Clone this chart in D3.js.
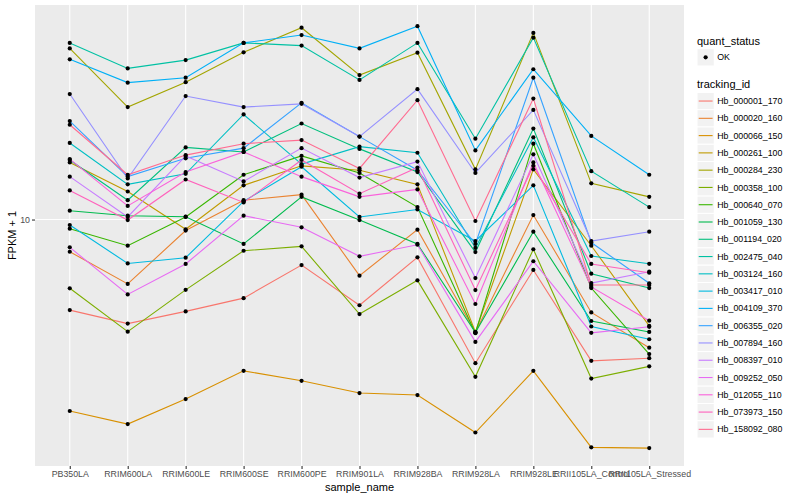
<!DOCTYPE html>
<html>
<head>
<meta charset="utf-8">
<script src="https://cdn.jsdelivr.net/npm/d3@7"></script>
<style>
  body { margin: 0; background: #ffffff; }
  text { font-family: "Liberation Sans", Arial, sans-serif; }
</style>
</head>
<body>
<div id="chart-area"></div>
<script>
// samples along the x axis
var sampleNames = ["PB350LA", "RRIM600LA", "RRIM600LE", "RRIM600SE", "RRIM600PE", "RRIM901LA",
  "RRIM928BA", "RRIM928LA", "RRIM928LE", "RRII105LA_Control", "RRII105LA_Stressed"];

var trackingIds = ["Hb_000001_170", "Hb_000020_160", "Hb_000066_150", "Hb_000261_100", "Hb_000284_230",
  "Hb_000358_100", "Hb_000640_070", "Hb_001059_130", "Hb_001194_020", "Hb_002475_040",
  "Hb_003124_160", "Hb_003417_010", "Hb_004109_370", "Hb_006355_020", "Hb_007894_160",
  "Hb_008397_010", "Hb_009252_050", "Hb_012055_110", "Hb_073973_150", "Hb_158092_080"];

var quantStatus = ["OK"];
var yTicks = [10];

// FPKM + 1, one array per gene, in sampleNames order
var hb_000001_170 = [4.99, 4.50, 4.94, 5.47, 7.05, 5.18, 7.48, 3.32, 6.79, 3.38, 3.45];
var hb_000020_160 = [7.81, 6.10, 9.19, 11.6, 12.1, 6.50, 9.25, 4.21, 10.35, 4.90, 3.74];
var hb_000066_150 = [2.30, 2.08, 2.52, 3.13, 2.90, 2.64, 2.60, 1.95, 3.13, 1.74, 1.73];
var hb_000261_100 = [15.5, 12.4, 9.28, 13.0, 15.1, 14.6, 13.1, 4.22, 14.7, 8.18, 4.42];
var hb_000284_230 = [37.2, 23.7, 28.7, 36.1, 43.6, 30.3, 36.0, 14.7, 41.9, 13.2, 11.9];
var hb_000358_100 = [5.90, 4.23, 5.83, 7.87, 8.14, 4.84, 6.27, 2.99, 7.96, 2.95, 3.24];
var hb_000640_070 = [9.32, 8.18, 10.2, 14.1, 16.3, 14.3, 11.0, 4.18, 17.9, 5.91, 3.56];
var hb_001059_130 = [10.7, 10.3, 10.22, 8.29, 11.9, 9.96, 8.29, 4.20, 9.11, 4.59, 4.22];
var hb_001194_020 = [15.8, 11.6, 17.4, 16.8, 20.9, 17.2, 14.4, 7.79, 20.1, 6.60, 5.91];
var hb_002475_040 = [38.8, 31.9, 34.0, 38.8, 38.0, 29.2, 38.8, 18.6, 40.4, 14.5, 11.0];
var hb_003124_160 = [18.0, 13.1, 14.2, 22.4, 15.3, 17.5, 16.7, 8.04, 18.8, 7.56, 7.12];
var hb_003417_010 = [9.59, 7.14, 7.46, 11.5, 15.0, 10.2, 10.8, 8.48, 13.0, 4.40, 3.99];
var hb_004109_370 = [34.2, 28.6, 29.7, 38.8, 41.2, 37.2, 44.1, 17.0, 31.7, 19.0, 14.1];
var hb_006355_020 = [21.3, 13.9, 16.0, 17.3, 24.5, 18.9, 14.6, 8.29, 29.7, 8.38, 6.13];
var hb_007894_160 = [26.2, 13.7, 25.8, 23.7, 24.3, 18.9, 27.2, 14.3, 23.2, 8.48, 9.11];
var hb_008397_010 = [13.9, 10.2, 16.3, 13.4, 17.3, 13.8, 15.6, 6.38, 16.5, 6.14, 6.70];
var hb_009252_050 = [8.08, 5.63, 7.11, 10.3, 9.42, 7.54, 8.24, 3.91, 7.26, 4.19, 4.39];
var hb_012055_110 = [15.9, 11.1, 14.4, 16.8, 13.9, 11.9, 12.6, 5.23, 15.5, 5.96, 4.60];
var hb_073973_150 = [12.5, 9.96, 13.6, 11.4, 15.8, 12.2, 14.9, 5.82, 15.1, 7.11, 6.65];
var hb_158092_080 = [20.7, 14.1, 16.4, 17.9, 18.4, 14.8, 25.0, 9.89, 25.3, 6.05, 6.05];

var seriesValues = [hb_000001_170, hb_000020_160, hb_000066_150, hb_000261_100, hb_000284_230,
  hb_000358_100, hb_000640_070, hb_001059_130, hb_001194_020, hb_002475_040,
  hb_003124_160, hb_003417_010, hb_004109_370, hb_006355_020, hb_007894_160,
  hb_008397_010, hb_009252_050, hb_012055_110, hb_073973_150, hb_158092_080];

// ggplot default hue palette for 20 levels
var colors = ["#F8766D", "#EA8331", "#D89000", "#C09B00", "#A3A500", "#7CAE00", "#39B600", "#00BB4E",
  "#00BF7D", "#00C1A3", "#00BFC4", "#00BAE0", "#00B0F6", "#35A2FF", "#9590FF", "#C77CFF",
  "#E76BF3", "#FA62DB", "#FF62BC", "#FF6C91"];

var series = trackingIds.map((id, i) => ({
  id: id,
  color: colors[i],
  values: seriesValues[i].map((v, j) => ({ sample: sampleNames[j], value: v }))
}));

var width = 800, height = 500;
var margin = { top: 5, right: 116, bottom: 34, left: 35 };

var svg = d3
  .select("#chart-area")
  .append("svg")
  .attr("width", width)
  .attr("height", height);

var x = d3
  .scalePoint()
  .domain(sampleNames)
  .range([margin.left, width - margin.right])
  .padding(0.6);

// log scale, limits of the panel (data range plus a little room)
var y = d3
  .scaleLog()
  .domain([1.508, 51.9])
  .range([height - margin.bottom, margin.top]);

// panel
svg.append("rect")
  .attr("x", margin.left)
  .attr("y", margin.top)
  .attr("width", width - margin.right - margin.left)
  .attr("height", height - margin.bottom - margin.top)
  .attr("fill", "#EBEBEB");

svg.selectAll(".vgrid")
  .data(sampleNames)
  .enter()
  .append("line")
  .attr("x1", d => x(d))
  .attr("x2", d => x(d))
  .attr("y1", margin.top)
  .attr("y2", height - margin.bottom)
  .attr("stroke", "#ffffff")
  .attr("stroke-width", 1.1);

svg.selectAll(".hgrid")
  .data(yTicks)
  .enter()
  .append("line")
  .attr("x1", margin.left)
  .attr("x2", width - margin.right)
  .attr("y1", d => y(d))
  .attr("y2", d => y(d))
  .attr("stroke", "#ffffff")
  .attr("stroke-width", 1.1);

// lines
var line = d3
  .line()
  .x(d => x(d.sample))
  .y(d => y(d.value));

svg.selectAll(".series")
  .data(series)
  .enter()
  .append("path")
  .attr("d", d => line(d.values))
  .attr("fill", "none")
  .attr("stroke", d => d.color)
  .attr("stroke-width", 1.1);

// points
svg.selectAll(".pt")
  .data(series.flatMap(s => s.values))
  .enter()
  .append("circle")
  .attr("cx", d => x(d.sample))
  .attr("cy", d => y(d.value))
  .attr("r", 2.1)
  .attr("fill", "#000000");

// axes
var xAxis = svg.append("g")
  .attr("transform", "translate(0," + (height - margin.bottom) + ")")
  .call(d3.axisBottom(x).tickSize(3).tickPadding(2));
var yAxis = svg.append("g")
  .attr("transform", "translate(" + margin.left + ",0)")
  .call(d3.axisLeft(y).tickValues(yTicks).tickSize(3).tickPadding(2).tickFormat(d3.format("d")));

[xAxis, yAxis].forEach(g => {
  g.select(".domain").remove();
  g.selectAll(".tick line").attr("stroke", "#333333").attr("stroke-width", 1.1);
  g.selectAll(".tick text")
    .attr("fill", "#4D4D4D")
    .style("font-size", "8.8px")
    .style("font-family", "'Liberation Sans', Arial, sans-serif");
});

svg.append("text")
  .attr("x", (margin.left + width - margin.right) / 2)
  .attr("y", 491)
  .attr("text-anchor", "middle")
  .style("font-size", "11px")
  .text("sample_name");

svg.append("text")
  .attr("transform", "translate(16," + ((margin.top + height - margin.bottom) / 2) + ") rotate(-90)")
  .attr("text-anchor", "middle")
  .style("font-size", "11px")
  .text("FPKM + 1");

// legends
var lx = 697, key = 17.28;

svg.append("text")
  .attr("x", lx)
  .attr("y", 44.5)
  .style("font-size", "11px")
  .text("quant_status");

var qs = svg.selectAll(".qs")
  .data(quantStatus)
  .enter()
  .append("g")
  .attr("transform", (d, i) => "translate(" + lx + "," + (48.7 + i * key) + ")");
qs.append("rect").attr("width", key).attr("height", key).attr("fill", "#F2F2F2").attr("stroke", "#ffffff");
qs.append("circle").attr("cx", key / 2).attr("cy", key / 2).attr("r", 2.1).attr("fill", "#000000");
qs.append("text").attr("x", key + 3).attr("y", key / 2 + 3.1).style("font-size", "8.8px").text(d => d);

svg.append("text")
  .attr("x", lx)
  .attr("y", 88.3)
  .style("font-size", "11px")
  .text("tracking_id");

var tk = svg.selectAll(".tk")
  .data(series)
  .enter()
  .append("g")
  .attr("transform", (d, i) => "translate(" + lx + "," + (92.4 + i * key) + ")");
tk.append("rect").attr("width", key).attr("height", key).attr("fill", "#F2F2F2").attr("stroke", "#ffffff");
tk.append("line")
  .attr("x1", 1.7).attr("x2", key - 1.7)
  .attr("y1", key / 2).attr("y2", key / 2)
  .attr("stroke", d => d.color)
  .attr("stroke-width", 1.1);
tk.append("text")
  .attr("x", key + 3)
  .attr("y", key / 2 + 3.1)
  .style("font-size", "8.8px")
  .text(d => d.id);
</script>
</body>
</html>
